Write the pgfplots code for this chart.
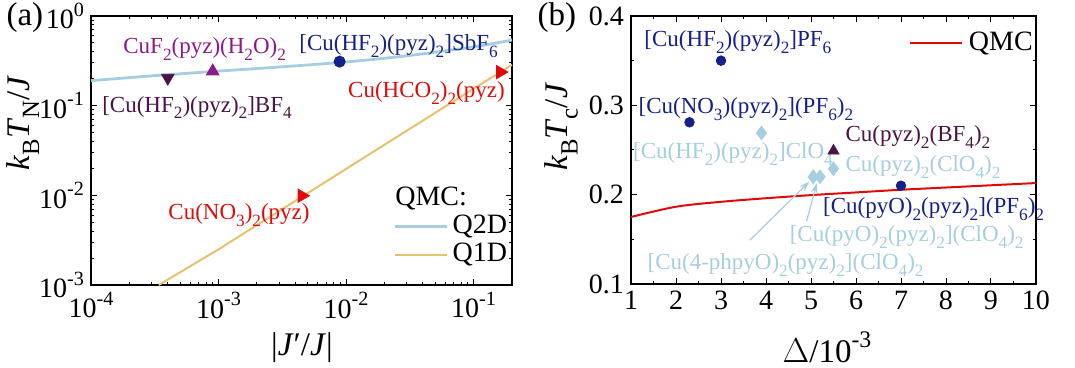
\documentclass[border=0pt]{standalone}
\usepackage{fontspec}
\setmainfont{Liberation Serif}
\usepackage{graphicx}
\usepackage{pgfplots}
\pgfplotsset{compat=1.18}
\usetikzlibrary{arrows.meta}
\definecolor{navy}{HTML}{16208A}
\definecolor{dpurple}{HTML}{4A1448}
\definecolor{mpurple}{HTML}{8C1A8C}
\definecolor{qred}{HTML}{E00A0A}
\definecolor{lblue}{HTML}{A5CFE0}
\definecolor{qorange}{HTML}{E8C170}
\newcommand{\lab}{\fontsize{11.5}{13}\selectfont}
\newcommand{\tl}{\fontsize{14}{16}\selectfont}
\newcommand{\al}{\fontsize{16.5}{19}\selectfont}
\newcommand{\su}[1]{\raisebox{-0.3em}{\scalebox{0.75}{#1}}}
\newcommand{\ex}[1]{\raisebox{0.45em}{\scalebox{0.72}{#1}}}
\pgfplotsset{
  myax/.style={
    scale only axis,
    anchor=south west,
    axis line style={line width=0.7pt},
    every tick/.style={line width=0.5pt, black},
    major tick length=3pt, minor tick length=1.7pt,
    tick label style={font=\tl},
    /pgf/number format/assume math mode=true,
    clip=false,
  }
}
\begin{document}
\begin{tikzpicture}
\useasboundingbox (0pt,0pt) rectangle (537.5pt,184pt);
% ---------------- (a)
\begin{loglogaxis}[myax,
  at={(45.5pt,41.5pt)}, width=210.5pt, height=134.5pt,
  xmin=1e-4, xmax=0.2, ymin=1e-3, ymax=1,
  xtick={1e-4,1e-3,1e-2,1e-1},
  minor xtick={2e-4,3e-4,4e-4,5e-4,6e-4,7e-4,8e-4,9e-4,2e-3,3e-3,4e-3,5e-3,6e-3,7e-3,8e-3,9e-3,2e-2,3e-2,4e-2,5e-2,6e-2,7e-2,8e-2,9e-2},
  xticklabels={10\ex{-4},10\ex{-3},10\ex{-2},10\ex{-1}},
  ytick={1e-3,1e-2,1e-1,1},
  minor ytick={2e-3,3e-3,4e-3,5e-3,6e-3,7e-3,8e-3,9e-3,2e-2,3e-2,4e-2,5e-2,6e-2,7e-2,8e-2,9e-2,0.2,0.3,0.4,0.5,0.6,0.7,0.8,0.9},
  yticklabels={10\ex{-3},10\ex{-2},10\ex{-1},10\ex{0}},
  xlabel={|\textit{J}\symbol{"2032}/\textit{J}|},
  xlabel style={font=\al, at={(axis description cs:0.501,-0.234)}, anchor=center},
  ylabel={\textit{k}\su{B}\textit{T}\su{N}/\textit{J}},
  ylabel style={font=\al, at={(axis description cs:-0.162,0.602)}, anchor=center},
]
\addplot[lblue, line width=1.4pt, smooth] coordinates {
  (1e-4,0.19) (3e-4,0.215) (1e-3,0.243) (3e-3,0.27) (1e-2,0.307)
  (3e-2,0.36) (0.1,0.452) (0.2,0.54)};
\addplot[qorange, line width=1pt] coordinates {
  (3.4e-4,1e-3) (1e-3,2.5e-3) (1e-2,0.0197) (0.1,0.155) (0.2,0.285)};
\addplot[only marks, mark=triangle*, mark size=3.6pt, dpurple, mark options={rotate=180}] coordinates {(4e-4,0.204)};
\addplot[only marks, mark=triangle*, mark size=3.6pt, mpurple] coordinates {(9e-4,0.242)};
\addplot[only marks, mark=*, mark size=2.8pt, navy] coordinates {(8.9e-3,0.31)};
\addplot[only marks, mark=triangle*, mark size=3.8pt, qred, mark options={rotate=-90}] coordinates {(4.5e-3,0.0099) (0.162,0.237)};
\node[anchor=base west, inner sep=0, text=mpurple, font=\lab] at (rel axis cs:0.076,0.862) {CuF\su{2}(pyz)(H\su{2}O)\su{2}};
\node[anchor=base west, inner sep=0, text=dpurple, font=\lab] at (rel axis cs:0.026,0.643) {[Cu(HF\su{2})(pyz)\su{2}]BF\su{4}};
\node[anchor=base west, inner sep=0, text=navy, font=\lab] at (rel axis cs:0.494,0.873) {[Cu(HF\su{2})(pyz)\su{2}]SbF\su{6}};
\node[anchor=base west, inner sep=0, text=qred, font=\lab] at (rel axis cs:0.610,0.698) {Cu(HCO\su{2})\su{2}(pyz)};
\node[anchor=base west, inner sep=0, text=qred, font=\lab] at (rel axis cs:0.183,0.242) {Cu(NO\su{3})\su{2}(pyz)};
% legend
\node[anchor=base west, inner sep=0, font=\tl] at (rel axis cs:0.722,0.297) {QMC:};
\draw[lblue, line width=1.4pt] (rel axis cs:0.722,0.216) -- (rel axis cs:0.846,0.216);
\node[anchor=west, inner sep=0, font=\tl] at (rel axis cs:0.858,0.216) {Q2D};
\draw[qorange, line width=1pt] (rel axis cs:0.722,0.112) -- (rel axis cs:0.846,0.112);
\node[anchor=west, inner sep=0, font=\tl] at (rel axis cs:0.858,0.112) {Q1D};
\node[font=\al] at (axis description cs:-0.157,0.996) {(a)};
\end{loglogaxis}
% ---------------- (b)
\begin{axis}[myax,
  at={(315.5pt,42pt)}, width=202.5pt, height=134pt,
  xmin=1, xmax=10, ymin=0.1, ymax=0.4,
  xtick={1,2,...,10}, ytick={0.1,0.2,0.3,0.4},
  minor x tick num=1, minor y tick num=1,
  yticklabel style={/pgf/number format/.cd, fixed, precision=1, fixed zerofill},
  xlabel={$\Delta$/10\ex{-3}},
  xlabel style={font=\al, at={(axis description cs:0.484,-0.235)}, anchor=center},
  ylabel={\textit{k}\su{B}\textit{T}\su{c}/\textit{J}},
  ylabel style={font=\al, at={(axis description cs:-0.172,0.586)}, anchor=center},
]
\addplot[qred, line width=1pt, smooth] coordinates {
  (1,0.175) (2,0.1865) (3,0.192) (4,0.196) (5,0.1995) (6,0.2025)
  (7,0.2055) (8,0.208) (9,0.2105) (10,0.213)};
\addplot[only marks, mark=*, mark size=2.4pt, navy] coordinates {(3,0.35) (2.3,0.281) (7,0.21)};
\addplot[only marks, mark=diamond*, mark size=3.4pt, lblue] coordinates {(3.9,0.269) (5.5,0.229) (5.05,0.22) (5.2,0.22)};
\addplot[only marks, mark=triangle*, mark size=3.2pt, dpurple] coordinates {(5.5,0.249)};
\draw[lblue, line width=0.6pt, -{Stealth[length=5pt,width=3.5pt]}] (axis cs:3.64,0.149) -- (axis cs:4.96,0.2145);
\draw[lblue, line width=0.6pt, -{Stealth[length=5pt,width=3.5pt]}] (axis cs:4.90,0.170) -- (axis cs:5.13,0.2127);
\node[anchor=base west, inner sep=0, text=navy, font=\lab] at (axis cs:1.29,0.3657) {[Cu(HF\su{2})(pyz)\su{2}]PF\su{6}};
\node[anchor=base west, inner sep=0, text=navy, font=\lab] at (axis cs:1.16,0.291) {[Cu(NO\su{3})(pyz)\su{2}](PF\su{6})\su{2}};
\node[anchor=base west, inner sep=0, text=lblue, font=\lab] at (axis cs:1.04,0.2407) {[Cu(HF\su{2})(pyz)\su{2}]ClO\su{4}};
\node[anchor=base west, inner sep=0, text=dpurple, font=\lab] at (axis cs:5.76,0.2593) {Cu(pyz)\su{2}(BF\su{4})\su{2}};
\node[anchor=base west, inner sep=0, text=lblue, font=\lab] at (axis cs:5.76,0.2257) {Cu(pyz)\su{2}(ClO\su{4})\su{2}};
\node[anchor=base west, inner sep=0, text=navy, font=\lab] at (axis cs:5.26,0.179) {[Cu(pyO)\su{2}(pyz)\su{2}](PF\su{6})\su{2}};
\node[anchor=base west, inner sep=0, text=lblue, font=\lab] at (axis cs:4.52,0.148) {[Cu(pyO)\su{2}(pyz)\su{2}](ClO\su{4})\su{2}};
\node[anchor=base west, inner sep=0, text=lblue, font=\lab] at (axis cs:1.36,0.1165) {[Cu(4-phpyO)\su{2}(pyz)\su{2}](ClO\su{4})\su{2}};
\draw[qred, line width=1pt] (axis cs:7.2,0.3694) -- (axis cs:8.35,0.3694);
\node[anchor=west, inner sep=0, font=\tl] at (axis cs:8.5,0.3694) {QMC};
\node[font=\al] at (axis description cs:-0.183,0.996) {(b)};
\end{axis}
\end{tikzpicture}
\end{document}
